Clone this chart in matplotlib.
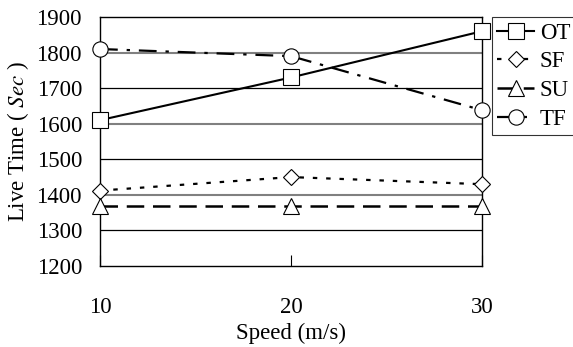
import matplotlib
matplotlib.use("Agg")
import matplotlib.pyplot as plt

speeds = [10, 20, 30]
ot = [1610, 1730, 1860]
sf = [1412, 1450, 1430]
su = [1368, 1368, 1368]
tf = [1810, 1790, 1638]
series_names = ["OT", "SF", "SU", "TF"]
y_ticks = [1200, 1300, 1400, 1500, 1600, 1700, 1800, 1900]

plt.rcParams['font.family'] = ['Liberation Serif', 'DejaVu Serif']
plt.rcParams['mathtext.fontset'] = 'stix'

FS = 16.5
fig = plt.figure(figsize=(5.73, 3.47), dpi=100)
ax = fig.add_axes([0.1745, 0.2334, 0.6667, 0.7176])

# gridlines: alternating gray / black
for v in y_ticks[1:-1]:
    if v in (1400, 1600, 1800):
        ax.axhline(v, color='#808080', lw=1.5, zorder=1)
    else:
        ax.axhline(v, color='black', lw=0.9, zorder=1)

styles = [
    dict(ls='-', marker='s', ms=11, lw=1.5),
    dict(ls=(0, (2, 4)), marker='D', ms=8, lw=1.6),
    dict(ls=(0, (7, 3.5)), marker='^', ms=12, lw=1.8),
    dict(ls=(0, (8, 4, 1.5, 4)), marker='o', ms=11, lw=1.6),
]
for data, name, st in zip([ot, sf, su, tf], series_names, styles):
    ax.plot(speeds, data, color='black', mfc='white', mec='black', mew=0.8,
            label=name, zorder=3, clip_on=False, **st)

ax.set_xlim(10, 30)
ax.set_ylim(1200, 1900)
ax.set_xticks(speeds)
ax.set_yticks(y_ticks)
ax.tick_params(axis='x', direction='in', length=8, pad=22, labelsize=FS, width=0.8)
ax.tick_params(axis='y', length=0, pad=13, labelsize=FS)
for s in ax.spines.values():
    s.set_linewidth(1.0)

ax.set_xlabel('Speed (m/s)', fontsize=FS, labelpad=4)
ax.set_ylabel('Live Time ( $\\mathit{Sec}$ )', fontsize=FS, labelpad=4)

leg = ax.legend(loc='upper left', bbox_to_anchor=(1.025, 1.0), frameon=True,
                fancybox=False, edgecolor='black', fontsize=FS,
                handlelength=1.6, handletextpad=0.25, borderpad=0.25,
                labelspacing=0.33, borderaxespad=0)
leg.get_frame().set_linewidth(0.8)

fig.savefig('out.png', dpi=100)
